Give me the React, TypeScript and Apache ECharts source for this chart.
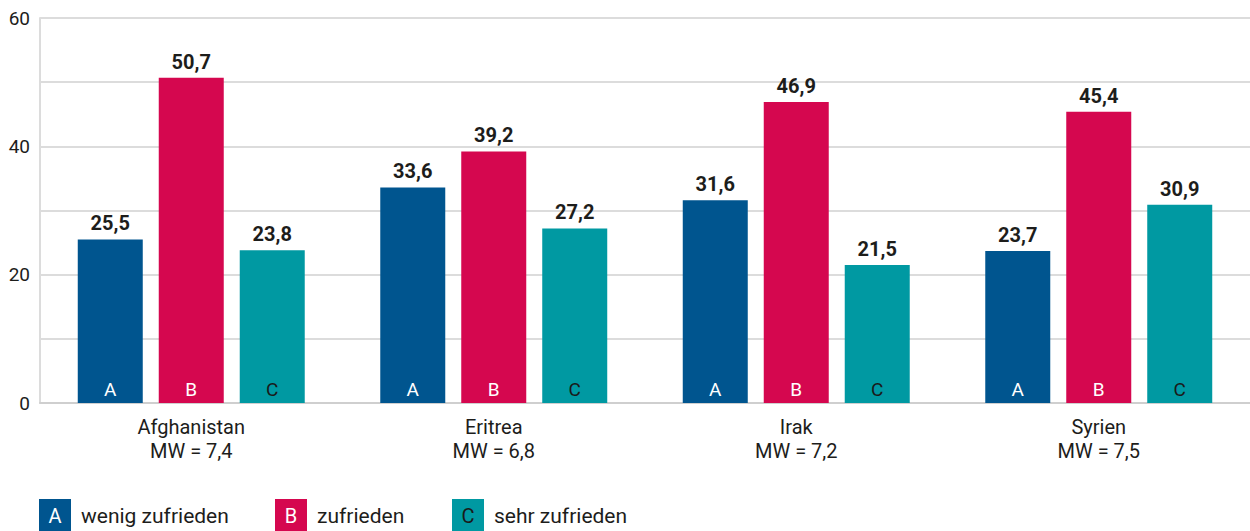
import React, { useEffect, useRef } from "react";
import * as echarts from "echarts";

const countries = ["Afghanistan", "Eritrea", "Irak", "Syrien"];
const meanValues = ["7,4", "6,8", "7,2", "7,5"];
const seriesNames = ["wenig zufrieden", "zufrieden", "sehr zufrieden"];
const seriesLetters = ["A", "B", "C"];
const wenigZufrieden = [25.5, 33.6, 31.6, 23.7];
const zufrieden = [50.7, 39.2, 46.9, 45.4];
const sehrZufrieden = [23.8, 27.2, 21.5, 30.9];
const yTickLabels = [0, 20, 40, 60];

const seriesValues = [wenigZufrieden, zufrieden, sehrZufrieden];
const seriesColors = ["#00558f", "#d5074f", "#0099a2"];
const letterColors = ["#ffffff", "#ffffff", "#1a1a1a"];
const legendX = [39, 275, 452];

const FONT = "Roboto, 'Noto Sans', sans-serif";
const TEXT = "#1d1d1b";

const fmt = (v: number) => v.toFixed(1).replace(".", ",");

export default function App() {
  const ref = useRef<HTMLDivElement>(null);
  useEffect(() => {
    if (!ref.current) return;
    const chart = echarts.init(ref.current, undefined, { renderer: "svg" });

    const barCommon = {
      type: "bar" as const,
      barWidth: 65,
      barGap: "24.6%",
    };

    const mainSeries = seriesValues.map((vals, i) => ({
      ...barCommon,
      name: seriesNames[i],
      xAxisIndex: 0,
      data: vals,
      itemStyle: { color: seriesColors[i] },
      label: {
        show: true,
        position: "top",
        distance: 6,
        formatter: (p: any) => fmt(p.value),
        fontFamily: FONT,
        fontSize: 20,
        fontWeight: "bold",
        color: TEXT,
      },
    }));

    const letterSeries = seriesValues.map((vals, i) => ({
      ...barCommon,
      name: seriesNames[i] + "-letter",
      xAxisIndex: 1,
      data: vals,
      silent: true,
      itemStyle: { color: "rgba(0,0,0,0)" },
      label: {
        show: true,
        position: "insideBottom",
        distance: 4,
        formatter: () => seriesLetters[i],
        fontFamily: FONT,
        fontSize: 19,
        color: letterColors[i],
      },
    }));

    const graphic: any[] = [];
    seriesNames.forEach((name, i) => {
      graphic.push({
        type: "rect",
        left: legendX[i],
        top: 499,
        shape: { width: 32, height: 32 },
        style: { fill: seriesColors[i] },
      });
      graphic.push({
        type: "text",
        x: legendX[i] + 16,
        y: 516,
        style: {
          text: seriesLetters[i],
          fill: letterColors[i],
          font: `20px ${FONT}`,
          textAlign: "center",
          textVerticalAlign: "middle",
        },
      });
      graphic.push({
        type: "text",
        x: legendX[i] + 42,
        y: 516,
        style: {
          text: name,
          fill: TEXT,
          font: `21px ${FONT}`,
          textAlign: "left",
          textVerticalAlign: "middle",
        },
      });
    });

    const xAxisBase = {
      type: "category" as const,
      data: countries,
      axisTick: { show: false },
    };

    chart.setOption({
      animation: false,
      grid: { left: 40, right: 0, top: 18, bottom: 128, containLabel: false },
      xAxis: [
        {
          ...xAxisBase,
          axisLine: { show: true, lineStyle: { color: "#cfcfcf", width: 2 } },
          axisLabel: {
            margin: 12,
            fontFamily: FONT,
            fontSize: 20,
            lineHeight: 24,
            color: TEXT,
            formatter: (v: string, i: number) => `${v}\nMW = ${meanValues[i]}`,
          },
        },
        {
          ...xAxisBase,
          position: "bottom",
          show: false,
        },
      ],
      yAxis: {
        type: "value",
        min: 0,
        max: 60,
        interval: 10,
        axisLine: { show: true, lineStyle: { color: "#dcdcdc", width: 2 } },
        axisTick: { show: false },
        splitLine: { lineStyle: { color: "#dcdcdc", width: 2 } },
        axisLabel: {
          margin: 10,
          fontFamily: FONT,
          fontSize: 19,
          color: TEXT,
          formatter: (v: number) => (yTickLabels.includes(v) ? String(v) : ""),
        },
      },
      series: [...mainSeries, ...letterSeries],
      graphic,
    });

    return () => chart.dispose();
  }, []);

  return (
    <div
      ref={ref}
      style={{ position: "fixed", left: 0, top: 0, width: 1250, height: 531, background: "#fff" }}
    />
  );
}
